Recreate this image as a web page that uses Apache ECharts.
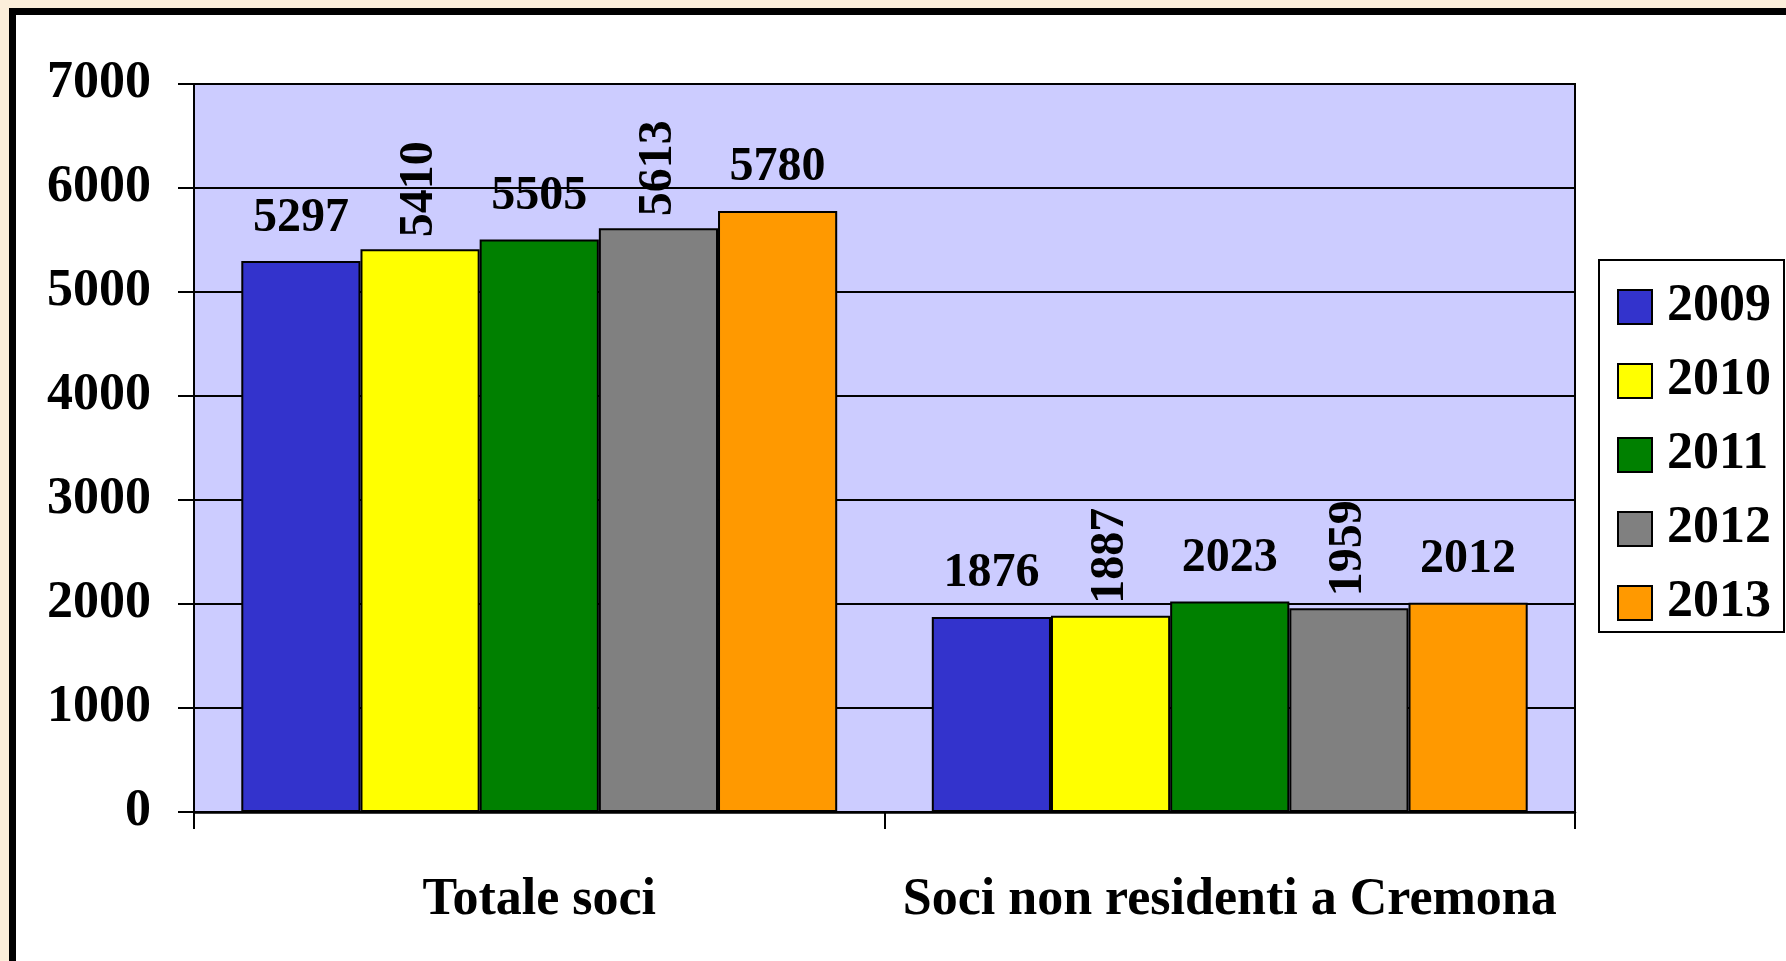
<!DOCTYPE html>
<html>
<head>
<meta charset="utf-8">
<script src="https://cdn.jsdelivr.net/npm/echarts@6/dist/echarts.min.js"></script>
<style>
  html, body { margin: 0; padding: 0; width: 1786px; height: 961px; overflow: hidden; background: #FBEEDA; }
  #frame { position: absolute; left: 9px; top: 8px; width: 1800px; height: 1000px; background: #ffffff;
           border-left: 7px solid #000; border-top: 7px solid #000; }
  #chart { position: absolute; left: 0; top: 0; width: 1786px; height: 961px; }
</style>
</head>
<body>
<div id="frame"></div>
<div id="chart"></div>
<script>
const categories = ['Totale soci', 'Soci non residenti a Cremona'];
const years = ['2009', '2010', '2011', '2012', '2013'];
const values2009 = [5297, 1876];
const values2010 = [5410, 1887];
const values2011 = [5505, 2023];
const values2012 = [5613, 1959];
const values2013 = [5780, 2012];
const yMin = 0, yMax = 7000, yStep = 1000;

const seriesValues = [values2009, values2010, values2011, values2012, values2013];
const colors = ['#3333CC', '#FFFF00', '#008000', '#808080', '#FF9900'];
const rotatedLabel = [false, true, false, true, false];
const FONT = 'Liberation Serif, Times New Roman, serif';

const chart = echarts.init(document.getElementById('chart'), null, { renderer: 'canvas' });

const series = years.map((y, i) => ({
  name: y,
  type: 'bar',
  data: seriesValues[i],
  barGap: '0%',
  barCategoryGap: '13.7%',
  itemStyle: { color: colors[i], borderColor: '#000', borderWidth: 2 },
  label: rotatedLabel[i] ? {
    show: true, position: 'top', distance: 12, rotate: 90, align: 'left', verticalAlign: 'middle',
    fontFamily: FONT, fontWeight: 'bold', fontSize: 48, color: '#000'
  } : {
    show: true, position: 'top', distance: 19,
    fontFamily: FONT, fontWeight: 'bold', fontSize: 48, color: '#000'
  },
  emphasis: { disabled: true }
}));

chart.setOption({
  animation: false,
  backgroundColor: 'transparent',
  grid: { left: 194, top: 84, right: 211, bottom: 149, show: true, backgroundColor: '#CCCCFF',
          borderColor: '#000', borderWidth: 2 },
  legend: {
    data: years, orient: 'vertical', left: 1599, top: 260,
    padding: [21, 13, 3, 18], itemGap: 22, itemWidth: 34, itemHeight: 34, icon: 'rect',
    backgroundColor: '#fff', borderColor: '#000', borderWidth: 2,
    itemStyle: { borderColor: '#000', borderWidth: 2 },
    textStyle: { fontFamily: FONT, fontWeight: 'bold', fontSize: 52, color: '#000', padding: [0, 0, 0, 10] }
  },
  xAxis: {
    type: 'category', data: categories,
    axisLine: { show: true, lineStyle: { color: '#000', width: 2.5 } },
    axisTick: { show: true, interval: 0, length: 17, lineStyle: { color: '#000', width: 2 } },
    axisLabel: { interval: 0, margin: 63, fontFamily: FONT, fontWeight: 'bold', fontSize: 52, color: '#000' },
    splitLine: { show: false }
  },
  yAxis: {
    type: 'value', min: yMin, max: yMax, interval: yStep,
    axisLine: { show: true, lineStyle: { color: '#000', width: 2 } },
    axisTick: { show: true, length: 16, lineStyle: { color: '#000', width: 2 } },
    axisLabel: { margin: 43, fontFamily: FONT, fontWeight: 'bold', fontSize: 52, color: '#000',
                 formatter: v => String(v) },
    splitLine: { show: true, lineStyle: { color: '#000', width: 2 } }
  },
  series: series
});
</script>
</body>
</html>
